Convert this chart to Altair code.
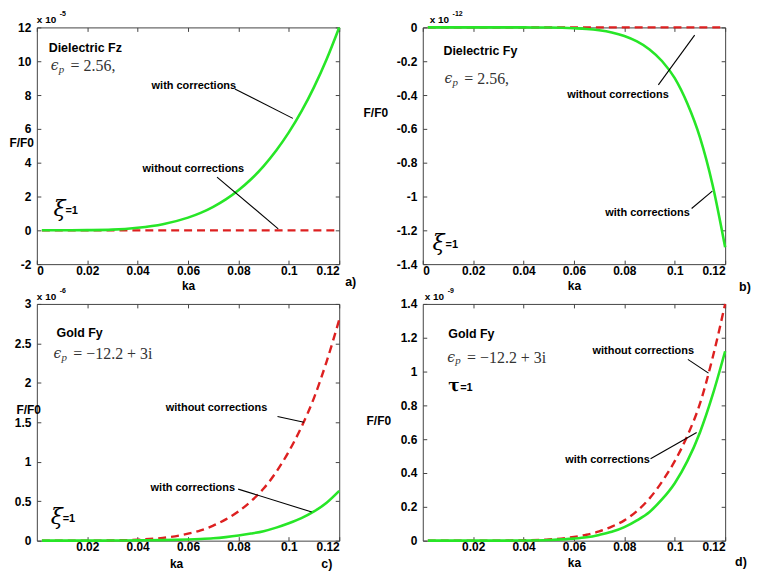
import altair as alt
import pandas as pd

# ---------------- data ----------------
KA = [0.002, 0.01, 0.02, 0.03, 0.04, 0.05, 0.06, 0.065, 0.07, 0.075, 0.08,
      0.085, 0.09, 0.095, 0.1, 0.105, 0.11, 0.115, 0.12]

# a) Dielectric Fz (x 1e-5)
A_WITH = [0, 0.0, 0.01, 0.04, 0.15, 0.36, 0.75, 1.03, 1.39, 1.83, 2.37,
          3.02, 3.8, 4.72, 5.79, 7.03, 8.47, 10.12, 12.0]
A_WITHOUT = [0] * 19
# b) Dielectric Fy (x 1e-12)
B_WITH = [0, 0, 0, 0, 0, -0.001, -0.005, -0.009, -0.017, -0.03, -0.051,
          -0.083, -0.13, -0.2, -0.3, -0.45, -0.65, -0.93, -1.3]
B_WITHOUT = [0] * 19
# c) Gold Fy (x 1e-6)
C_WITH = [0, 0, 0, 0.001, 0.003, 0.007, 0.015, 0.021, 0.03, 0.045, 0.065,
          0.09, 0.12, 0.165, 0.22, 0.285, 0.37, 0.48, 0.63]
C_WITHOUT = [0, 0, 0, 0.003, 0.012, 0.035, 0.088, 0.13, 0.19, 0.27, 0.37,
             0.5, 0.66, 0.87, 1.13, 1.44, 1.81, 2.27, 2.8]
# d) Gold Fy (x 1e-9)
D_WITH = [0, 0, 0, 0, 0.001, 0.004, 0.012, 0.02, 0.034, 0.052, 0.08,
          0.12, 0.17, 0.245, 0.34, 0.47, 0.64, 0.86, 1.12]
D_WITHOUT = [0, 0, 0, 0, 0.002, 0.007, 0.022, 0.035, 0.055, 0.083, 0.12,
             0.175, 0.25, 0.35, 0.47, 0.62, 0.81, 1.08, 1.4]

X_TICKS_AB = [0, 0.02, 0.04, 0.06, 0.08, 0.1, 0.12]
X_TICKS_CD = [0.02, 0.04, 0.06, 0.08, 0.1, 0.12]
A_YTICKS = [-2, 0, 2, 4, 6, 8, 10, 12]
B_YTICKS = [-1.4, -1.2, -1, -0.8, -0.6, -0.4, -0.2, 0]
C_YTICKS = [0, 0.5, 1, 1.5, 2, 2.5, 3]
D_YTICKS = [0, 0.2, 0.4, 0.6, 0.8, 1, 1.2, 1.4]

EXPONENTS = ["-5", "-12", "-6", "-9"]
MATERIALS = ["Dielectric  Fz", "Dielectric   Fy", "Gold  Fy", "Gold Fy"]
EPS_VALUES = ["= 2.56,", "= 2.56,", "= \u221212.2 + 3i", "= \u221212.2 + 3i"]
SYMBOLS = ["\u03be", "\u03be", "\u03be", "\u03c4"]
PANEL_LABELS = ["a)", "b)", "c)", "d)"]

# annotation anchors (ka, value)
MATERIAL_XY = [(0.0047, 10.8), (0.0082, -0.138), (0.0078, 2.637), (0.0101, 1.221)]
EPS_XY = [(0.0055, 9.69), (0.0086, -0.305), (0.0066, 2.36), (0.0097, 1.083)]
SYMBOL_XY = [(0.0066, 1.24), (0.0039, -1.273), (0.0055, 0.30), (0.0101, 0.916)]
WITH_XY = [(0.0623, 8.53), (0.0892, -1.10), (0.0619, 0.665), (0.0733, 0.478)]
WITHOUT_XY = [(0.0621, 3.61), (0.0775, -0.397), (0.0713, 1.68), (0.0875, 1.124)]
# pointer lines: (x0, y0, x1, y1)
WITH_PTR = [(0.0786, 8.36, 0.1016, 6.62), (0.1067, -1.071, 0.1149, -0.968),
            (0.0799, 0.653, 0.1091, 0.363), (0.0904, 0.484, 0.1087, 0.64)]
WITHOUT_PTR = [(0.0715, 3.15, 0.0958, 0.09), (0.0935, -0.34, 0.1079, -0.046),
               (0.0955, 1.573, 0.106, 1.50), (0.1052, 1.072, 0.1134, 0.991)]

# ---------------- styling ----------------
W, H = 304, 238
GREEN = "#27e627"
RED = "#dd2020"
SANS = "Liberation Sans"
SERIF = "Liberation Serif"
# per-panel layout tweaks (pixels)
YTITLE_POS = [(-28, 116), (-60, 86), (-21, 106), (-57, 117)]
XTITLE_DY = [21, 22, 23, 22]
XTITLE_DX = [0, 0, -12, 0]
LABEL_OFFSET = [(6, 18), (14, 23), (-18, 23), (10, 21)]
EXP_DX = [0, 7, 0, 2]

AX_STYLE = dict(labelFont=SANS, labelFontWeight="bold", labelFontSize=12,
                labelColor="black", titleFont=SANS, titleFontWeight="bold",
                titleFontSize=12, titleColor="black", tickColor="#444",
                tickWidth=1, grid=False, domain=False, offset=-4, tickSize=4)


def panel(i, with_vals, without_vals, ydom, yticks, xticks):
    xscale = alt.Scale(domain=[0, 0.12], nice=False, zero=False)
    yscale = alt.Scale(domain=ydom, nice=False, zero=False)
    df = pd.DataFrame({"ka": KA, "with": with_vals, "without": without_vals})

    tx, ty = YTITLE_POS[i]
    x_axis = alt.Axis(values=xticks, labelExpr="toString(datum.value)",
                      labelPadding=1, title="ka", titleY=XTITLE_DY[i] + 4,
                      titleX=W / 2 + XTITLE_DX[i], titleBaseline="middle",
                      **AX_STYLE)
    y_axis = alt.Axis(values=yticks, labelExpr="toString(datum.value)",
                      labelPadding=6, title="F/F0", titleAngle=0,
                      titleAlign="left", titleBaseline="middle",
                      titleX=tx - 4, titleY=ty, **AX_STYLE)
    x_top = alt.Axis(values=xticks, orient="top", labels=False, title=None,
                     **AX_STYLE)
    y_right = alt.Axis(values=yticks, orient="right", labels=False, title=None,
                       **AX_STYLE)

    red = alt.Chart(df).mark_line(color=RED, strokeWidth=2.4, interpolate="monotone",
                                  strokeDash=[8, 5]).encode(
        x=alt.X("ka:Q", scale=xscale, axis=x_axis),
        y=alt.Y("without:Q", scale=yscale, axis=y_axis))
    green = alt.Chart(df).mark_line(color=GREEN, strokeWidth=2.6,
                                    interpolate="monotone").encode(
        x=alt.X("ka:Q", scale=xscale, axis=x_top),
        y=alt.Y("with:Q", scale=yscale, axis=y_right))

    ptr = pd.DataFrame([WITH_PTR[i], WITHOUT_PTR[i]], columns=["x0", "y0", "x1", "y1"])
    rules = alt.Chart(ptr).mark_rule(color="black", strokeWidth=1.1).encode(
        x=alt.X("x0:Q", scale=xscale, axis=None),
        y=alt.Y("y0:Q", scale=yscale, axis=None),
        x2="x1:Q", y2="y1:Q")

    def txt(df_, **kw):
        return alt.Chart(df_).mark_text(**kw).encode(
            x=alt.X("x:Q", scale=xscale, axis=None),
            y=alt.Y("y:Q", scale=yscale, axis=None),
            text="t:N")

    lab = pd.DataFrame({"t": ["with corrections", "without corrections"],
                        "x": [WITH_XY[i][0], WITHOUT_XY[i][0]],
                        "y": [WITH_XY[i][1], WITHOUT_XY[i][1]]})
    labels = txt(lab, font=SANS, fontWeight="bold", fontSize=11, align="center",
                 baseline="middle", fill="black")

    mat = pd.DataFrame({"t": [MATERIALS[i]], "x": [MATERIAL_XY[i][0]], "y": [MATERIAL_XY[i][1]]})
    material = txt(mat, font=SANS, fontWeight="bold", fontSize=12.5, align="left",
                   baseline="middle", fill="black")

    eps_df = pd.DataFrame({"t": ["\u03f5"], "x": [EPS_XY[i][0]], "y": [EPS_XY[i][1]]})
    eps = txt(eps_df, font="DejaVu Serif", fontStyle="italic", fontSize=14,
              align="left", baseline="middle", fill="#333333")
    p_df = pd.DataFrame({"t": ["p"], "x": [EPS_XY[i][0]], "y": [EPS_XY[i][1]]})
    psub = txt(p_df, font=SERIF, fontStyle="italic", fontSize=11,
               align="left", baseline="middle", fill="#333333", dx=8, dy=4)
    v_df = pd.DataFrame({"t": [EPS_VALUES[i]], "x": [EPS_XY[i][0]], "y": [EPS_XY[i][1]]})
    epsval = txt(v_df, font=SERIF, fontSize=16, align="left", baseline="middle",
                 fill="#333333", dx=20)

    s_df = pd.DataFrame({"t": [SYMBOLS[i]], "x": [SYMBOL_XY[i][0]], "y": [SYMBOL_XY[i][1]]})
    sym = txt(s_df, font="DejaVu Serif", fontStyle="italic" if i < 3 else "normal",
              fontWeight="normal" if i < 3 else "bold",
              fontSize=22 if i < 3 else 17, align="left", baseline="middle", fill="black")
    e_df = pd.DataFrame({"t": ["=1"], "x": [SYMBOL_XY[i][0]], "y": [SYMBOL_XY[i][1]]})
    eq1 = txt(e_df, font=SANS, fontWeight="bold", fontSize=11, align="left",
              baseline="middle", fill="black", dx=12 if i != 1 else 13, dy=2)

    x_df = pd.DataFrame({"t": ["x 10"], "x": [0.0], "y": [ydom[1]]})
    x10 = txt(x_df, font=SANS, fontWeight="bold", fontSize=10, align="left",
              baseline="middle", fill="black", dx=EXP_DX[i], dy=-7)
    ex_df = pd.DataFrame({"t": [EXPONENTS[i]], "x": [0.0], "y": [ydom[1]]})
    exp_ = txt(ex_df, font=SANS, fontWeight="bold", fontSize=7, align="left",
               baseline="middle", fill="black", dx=EXP_DX[i] + 23, dy=-13)

    pl_df = pd.DataFrame({"t": [PANEL_LABELS[i]], "x": [0.12], "y": [ydom[0]]})
    plabel = txt(pl_df, font=SANS, fontWeight="bold", fontSize=12.5, align="left",
                 baseline="middle", fill="black",
                 dx=LABEL_OFFSET[i][0], dy=LABEL_OFFSET[i][1])

    return alt.layer(red, green, rules, labels, material, eps, psub, epsval,
                     sym, eq1, x10, exp_, plabel).resolve_axis(
        x="independent", y="independent").properties(width=W, height=H)


pa = panel(0, A_WITH, A_WITHOUT, [-2, 12], A_YTICKS, X_TICKS_AB)
pb = panel(1, B_WITH, B_WITHOUT, [-1.4, 0], B_YTICKS, X_TICKS_AB)
pc = panel(2, C_WITH, C_WITHOUT, [0, 3], C_YTICKS, X_TICKS_CD)
pd_ = panel(3, D_WITH, D_WITHOUT, [0, 1.4], D_YTICKS, X_TICKS_CD)

chart = alt.concat(pa, pb, pc, pd_, columns=2, spacing={"row": 40, "column": 84},
                   bounds="flush").properties(
    padding={"left": 0, "top": 0, "right": 0, "bottom": 0},
    background="white"
).configure_view(stroke="#444444", strokeWidth=1)

chart.save("out.html", embed_options={"renderer": "svg", "actions": False})
